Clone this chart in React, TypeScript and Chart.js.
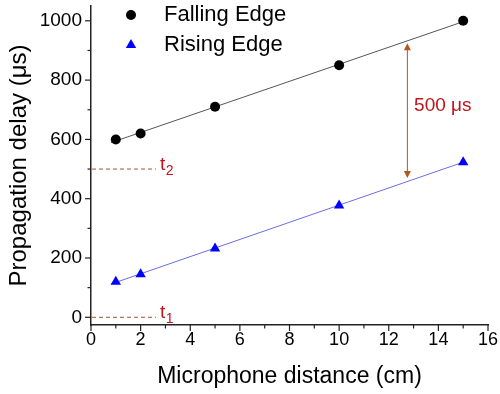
import React, { useEffect, useRef } from "react";
import { Chart, registerables } from "chart.js";

Chart.register(...registerables);

const xDistance = [1, 2, 5, 10, 15];
const fallingDelay = [600, 620, 710, 850, 1000];
const risingDelay = [120, 145, 232, 377, 523];

const fallingFitX = [0.8, 15.1];
const fallingFitY = [589, 1000];
const risingFitX = [0.8, 15.1];
const risingFitY = [112, 526];

const xTicks = [0, 2, 4, 6, 8, 10, 12, 14, 16];
const xMinorTicks = [1, 3, 5, 7, 9, 11, 13, 15];
const yTicks = [0, 200, 400, 600, 800, 1000];
const yMinorTicks = [100, 300, 500, 700, 900];

const levelValues = [0, 500];
const levelLabels = ["1", "2"];
const levelEndX = 2.62;
const gapArrowX = 12.75;
const gapArrowTop = 924;
const gapArrowBottom = 470;
const gapLabel = "500 μs";
const gapLabelPos = { x: 13.02, y: 714 };

const legendLabels = ["Falling Edge", "Rising Edge"];

const FONT = "'Liberation Sans', Arial, sans-serif";

const zip = (xs: number[], ys: number[]) => xs.map((x, i) => ({ x, y: ys[i] }));

const drawTriangle = (ctx: CanvasRenderingContext2D, cx: number, cy: number, r: number) => {
  ctx.beginPath();
  let rad = 0;
  ctx.moveTo(cx + Math.sin(rad) * r, cy - Math.cos(rad) * r);
  rad += (2 * Math.PI) / 3;
  ctx.lineTo(cx + Math.sin(rad) * r, cy - Math.cos(rad) * r);
  rad += (2 * Math.PI) / 3;
  ctx.lineTo(cx + Math.sin(rad) * r, cy - Math.cos(rad) * r);
  ctx.closePath();
  ctx.fill();
};

const annotPlugin = {
  id: "annot",
  afterDraw(chart: any) {
    const { ctx, chartArea } = chart;
    const x = chart.scales.x;
    const y = chart.scales.y;
    const left = chartArea.left;
    const bottom = chartArea.bottom;
    ctx.save();
    ctx.strokeStyle = "#222";
    ctx.lineWidth = 1.2;
    const seg = (x1: number, y1: number, x2: number, y2: number) => {
      ctx.beginPath();
      ctx.moveTo(x1, y1);
      ctx.lineTo(x2, y2);
      ctx.stroke();
    };
    yTicks.forEach((v) => {
      const p = y.getPixelForValue(v);
      seg(left - 6, p, left, p);
    });
    yMinorTicks.forEach((v) => {
      const p = y.getPixelForValue(v);
      seg(left - 3.5, p, left, p);
    });
    xTicks.forEach((v) => {
      const p = x.getPixelForValue(v);
      seg(p, bottom, p, bottom + 6);
    });
    xMinorTicks.forEach((v) => {
      const p = x.getPixelForValue(v);
      seg(p, bottom, p, bottom + 3.5);
    });

    ctx.strokeStyle = "#a0522d";
    ctx.lineWidth = 1;
    ctx.setLineDash([4, 3]);
    levelValues.forEach((v, i) => {
      const py = y.getPixelForValue(v);
      seg(x.getPixelForValue(0) + 1, py, x.getPixelForValue(levelEndX), py);
      ctx.fillStyle = "#c0141c";
      ctx.textAlign = "left";
      ctx.textBaseline = "alphabetic";
      const tx = x.getPixelForValue(levelEndX) + 4;
      ctx.font = `19px ${FONT}`;
      ctx.fillText("t", tx, py + 1);
      const tw = ctx.measureText("t").width;
      ctx.font = `14px ${FONT}`;
      ctx.fillText(levelLabels[i], tx + tw + 0.5, py + 5.5);
    });
    ctx.setLineDash([]);

    const ax = x.getPixelForValue(gapArrowX);
    const at = y.getPixelForValue(gapArrowTop);
    const ab = y.getPixelForValue(gapArrowBottom);
    ctx.strokeStyle = "#b0561e";
    ctx.fillStyle = "#b0561e";
    ctx.lineWidth = 1;
    seg(ax, at + 4, ax, ab - 4);
    ctx.beginPath();
    ctx.moveTo(ax, at);
    ctx.lineTo(ax - 3.5, at + 7);
    ctx.lineTo(ax + 3.5, at + 7);
    ctx.closePath();
    ctx.fill();
    ctx.beginPath();
    ctx.moveTo(ax, ab);
    ctx.lineTo(ax - 3.5, ab - 7);
    ctx.lineTo(ax + 3.5, ab - 7);
    ctx.closePath();
    ctx.fill();

    ctx.fillStyle = "#c0141c";
    ctx.font = `19px ${FONT}`;
    ctx.textAlign = "left";
    ctx.textBaseline = "middle";
    ctx.fillText(gapLabel, x.getPixelForValue(gapLabelPos.x), y.getPixelForValue(gapLabelPos.y));

    ctx.fillStyle = "#000";
    ctx.beginPath();
    ctx.arc(131, 15, 5, 0, Math.PI * 2);
    ctx.fill();
    ctx.fillStyle = "#0000ff";
    drawTriangle(ctx, 131, 45, 6);
    ctx.fillStyle = "#000";
    ctx.font = `22px ${FONT}`;
    ctx.textBaseline = "middle";
    ctx.fillText(legendLabels[0], 164, 15);
    ctx.fillText(legendLabels[1], 164, 45);
    ctx.restore();
  },
};

const zeroPad = (scale: any) => {
  scale.paddingLeft = 0;
  scale.paddingRight = 0;
  scale.paddingTop = 0;
  scale.paddingBottom = 0;
};

export default function App() {
  const ref = useRef<HTMLCanvasElement>(null);
  useEffect(() => {
    if (!ref.current) return;
    const chart = new Chart(ref.current, {
      type: "scatter",
      data: {
        datasets: [
          {
            label: legendLabels[0],
            data: zip(xDistance, fallingDelay),
            pointStyle: "circle",
            pointRadius: 5,
            backgroundColor: "#000",
            borderColor: "#000",
            borderWidth: 0,
            showLine: false,
            order: 0,
          },
          {
            label: legendLabels[1],
            data: zip(xDistance, risingDelay),
            pointStyle: "triangle",
            pointRadius: 6,
            backgroundColor: "#0000ff",
            borderColor: "#0000ff",
            borderWidth: 0,
            showLine: false,
            order: 0,
          },
          {
            label: "fitF",
            data: zip(fallingFitX, fallingFitY),
            showLine: true,
            pointRadius: 0,
            borderColor: "#555",
            borderWidth: 1,
            order: 1,
          },
          {
            label: "fitR",
            data: zip(risingFitX, risingFitY),
            showLine: true,
            pointRadius: 0,
            borderColor: "#6d6de0",
            borderWidth: 1,
            order: 1,
          },
        ],
      },
      options: {
        responsive: false,
        animation: false,
        layout: { padding: { left: 0, right: 12, top: 5, bottom: 0 } },
        plugins: { legend: { display: false }, tooltip: { enabled: false } },
        scales: {
          x: {
            type: "linear",
            min: 0,
            max: 16,
            afterBuildTicks: (s: any) => {
              s.ticks = xTicks.map((v) => ({ value: v }));
            },
            afterFit: (s: any) => {
              s.height = 69;
              zeroPad(s);
            },
            grid: { display: true, drawOnChartArea: false, drawTicks: false },
            border: { display: true, color: "#222", width: 1.5 },
            ticks: {
              padding: 4,
              color: "#000",
              font: { family: FONT, size: 18 },
              maxRotation: 0,
              callback: (v: any) => String(v),
            },
            title: {
              display: true,
              text: "Microphone distance (cm)",
              color: "#000",
              font: { family: FONT, size: 23 },
              padding: { top: 0, bottom: 4 },
            },
          },
          y: {
            type: "linear",
            min: -26,
            max: 1050,
            afterBuildTicks: (s: any) => {
              s.ticks = yTicks.map((v) => ({ value: v }));
            },
            afterFit: (s: any) => {
              s.width = 91;
              zeroPad(s);
            },
            grid: { display: true, drawOnChartArea: false, drawTicks: false },
            border: { display: true, color: "#222", width: 1.5 },
            ticks: {
              padding: 9,
              color: "#000",
              font: { family: FONT, size: 19 },
              callback: (v: any) => String(v),
            },
            title: {
              display: true,
              text: "Propagation delay (μs)",
              color: "#000",
              font: { family: FONT, size: 24 },
              padding: { top: 5, bottom: 0 },
            },
          },
        },
      },
      plugins: [annotPlugin],
    });
    return () => chart.destroy();
  }, []);
  return (
    <div style={{ position: "absolute", left: 0, top: 0, width: 500, height: 394, background: "#fff" }}>
      <canvas ref={ref} width={500} height={394} />
    </div>
  );
}
